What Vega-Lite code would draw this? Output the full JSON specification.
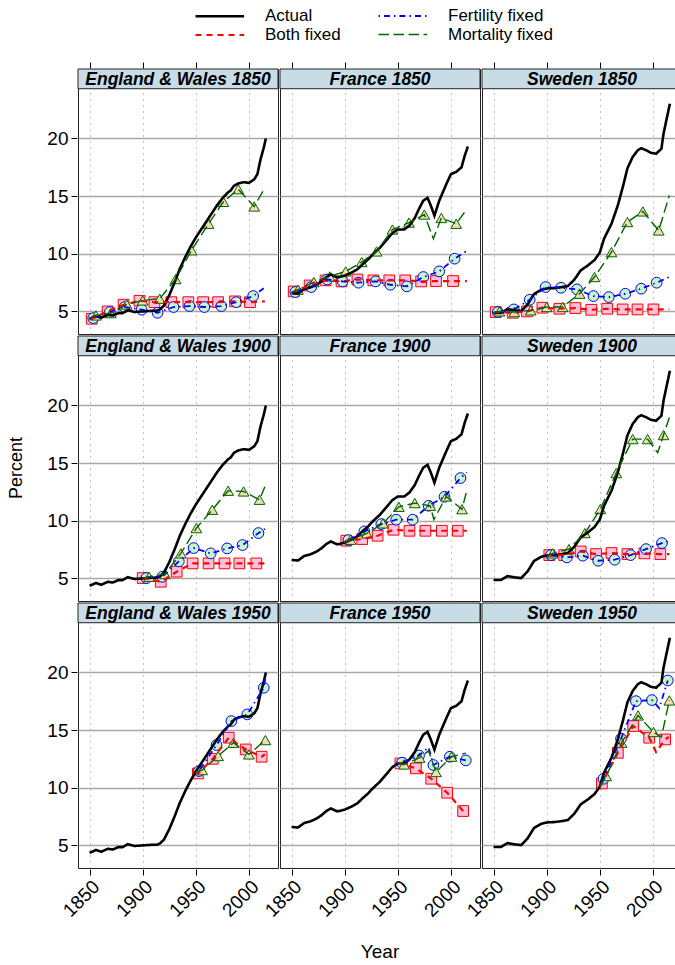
{
  "$schema": "https://vega.github.io/schema/vega-lite/v6.json",
  "background": "white",
  "padding": {"left": 7, "top": 5, "right": 0, "bottom": 5},
  "data": {"values": [
    {"country":"England & Wales","start":[1850],"series":"strip","label":"England & Wales 1850"},
    {"country":"England & Wales","start":[1900],"series":"strip","label":"England & Wales 1900"},
    {"country":"England & Wales","start":[1950],"series":"strip","label":"England & Wales 1950"},
    {"country":"France","start":[1850],"series":"strip","label":"France 1850"},
    {"country":"France","start":[1900],"series":"strip","label":"France 1900"},
    {"country":"France","start":[1950],"series":"strip","label":"France 1950"},
    {"country":"Sweden","start":[1850],"series":"strip","label":"Sweden 1850"},
    {"country":"Sweden","start":[1900],"series":"strip","label":"Sweden 1900"},
    {"country":"Sweden","start":[1950],"series":"strip","label":"Sweden 1950"},

    {"country":"England & Wales","start":[1850,1900,1950],"series":"Actual","year":1850,"pct":4.36},
    {"country":"England & Wales","start":[1850,1900,1950],"series":"Actual","year":1856,"pct":4.6},
    {"country":"England & Wales","start":[1850,1900,1950],"series":"Actual","year":1861,"pct":4.45},
    {"country":"England & Wales","start":[1850,1900,1950],"series":"Actual","year":1867,"pct":4.7},
    {"country":"England & Wales","start":[1850,1900,1950],"series":"Actual","year":1872,"pct":4.65},
    {"country":"England & Wales","start":[1850,1900,1950],"series":"Actual","year":1877,"pct":4.85},
    {"country":"England & Wales","start":[1850,1900,1950],"series":"Actual","year":1881,"pct":4.85},
    {"country":"England & Wales","start":[1850,1900,1950],"series":"Actual","year":1886,"pct":5.1},
    {"country":"England & Wales","start":[1850,1900,1950],"series":"Actual","year":1892,"pct":4.95},
    {"country":"England & Wales","start":[1850,1900,1950],"series":"Actual","year":1900,"pct":5.0},
    {"country":"England & Wales","start":[1850,1900,1950],"series":"Actual","year":1908,"pct":5.05},
    {"country":"England & Wales","start":[1850,1900,1950],"series":"Actual","year":1913,"pct":5.05},
    {"country":"England & Wales","start":[1850,1900,1950],"series":"Actual","year":1916,"pct":5.15},
    {"country":"England & Wales","start":[1850,1900,1950],"series":"Actual","year":1920,"pct":5.5},
    {"country":"England & Wales","start":[1850,1900,1950],"series":"Actual","year":1925,"pct":6.4},
    {"country":"England & Wales","start":[1850,1900,1950],"series":"Actual","year":1930,"pct":7.5},
    {"country":"England & Wales","start":[1850,1900,1950],"series":"Actual","year":1935,"pct":8.7},
    {"country":"England & Wales","start":[1850,1900,1950],"series":"Actual","year":1940,"pct":9.7},
    {"country":"England & Wales","start":[1850,1900,1950],"series":"Actual","year":1945,"pct":10.6},
    {"country":"England & Wales","start":[1850,1900,1950],"series":"Actual","year":1950,"pct":11.4},
    {"country":"England & Wales","start":[1850,1900,1950],"series":"Actual","year":1955,"pct":12.1},
    {"country":"England & Wales","start":[1850,1900,1950],"series":"Actual","year":1960,"pct":12.8},
    {"country":"England & Wales","start":[1850,1900,1950],"series":"Actual","year":1965,"pct":13.5},
    {"country":"England & Wales","start":[1850,1900,1950],"series":"Actual","year":1970,"pct":14.2},
    {"country":"England & Wales","start":[1850,1900,1950],"series":"Actual","year":1975,"pct":14.8},
    {"country":"England & Wales","start":[1850,1900,1950],"series":"Actual","year":1980,"pct":15.3},
    {"country":"England & Wales","start":[1850,1900,1950],"series":"Actual","year":1983,"pct":15.5},
    {"country":"England & Wales","start":[1850,1900,1950],"series":"Actual","year":1986,"pct":15.9},
    {"country":"England & Wales","start":[1850,1900,1950],"series":"Actual","year":1990,"pct":16.1},
    {"country":"England & Wales","start":[1850,1900,1950],"series":"Actual","year":1995,"pct":16.2},
    {"country":"England & Wales","start":[1850,1900,1950],"series":"Actual","year":2000,"pct":16.15},
    {"country":"England & Wales","start":[1850,1900,1950],"series":"Actual","year":2005,"pct":16.45},
    {"country":"England & Wales","start":[1850,1900,1950],"series":"Actual","year":2008,"pct":16.9},
    {"country":"England & Wales","start":[1850,1900,1950],"series":"Actual","year":2011,"pct":18.2},
    {"country":"England & Wales","start":[1850,1900,1950],"series":"Actual","year":2014,"pct":19.2},
    {"country":"England & Wales","start":[1850,1900,1950],"series":"Actual","year":2016,"pct":20.0},

    {"country":"France","start":[1850,1900,1950],"series":"Actual","year":1850,"pct":6.6},
    {"country":"France","start":[1850,1900,1950],"series":"Actual","year":1856,"pct":6.55},
    {"country":"France","start":[1850,1900,1950],"series":"Actual","year":1862,"pct":6.95},
    {"country":"France","start":[1850,1900,1950],"series":"Actual","year":1868,"pct":7.1},
    {"country":"France","start":[1850,1900,1950],"series":"Actual","year":1873,"pct":7.3},
    {"country":"France","start":[1850,1900,1950],"series":"Actual","year":1878,"pct":7.6},
    {"country":"France","start":[1850,1900,1950],"series":"Actual","year":1883,"pct":8.0},
    {"country":"France","start":[1850,1900,1950],"series":"Actual","year":1887,"pct":8.2},
    {"country":"France","start":[1850,1900,1950],"series":"Actual","year":1893,"pct":7.95},
    {"country":"France","start":[1850,1900,1950],"series":"Actual","year":1900,"pct":8.1},
    {"country":"France","start":[1850,1900,1950],"series":"Actual","year":1906,"pct":8.35},
    {"country":"France","start":[1850,1900,1950],"series":"Actual","year":1912,"pct":8.65},
    {"country":"France","start":[1850,1900,1950],"series":"Actual","year":1917,"pct":9.1},
    {"country":"France","start":[1850,1900,1950],"series":"Actual","year":1922,"pct":9.5},
    {"country":"France","start":[1850,1900,1950],"series":"Actual","year":1927,"pct":10.0},
    {"country":"France","start":[1850,1900,1950],"series":"Actual","year":1933,"pct":10.5},
    {"country":"France","start":[1850,1900,1950],"series":"Actual","year":1939,"pct":11.15},
    {"country":"France","start":[1850,1900,1950],"series":"Actual","year":1945,"pct":11.8},
    {"country":"France","start":[1850,1900,1950],"series":"Actual","year":1950,"pct":12.1},
    {"country":"France","start":[1850,1900,1950],"series":"Actual","year":1956,"pct":12.1},
    {"country":"France","start":[1850,1900,1950],"series":"Actual","year":1961,"pct":12.45},
    {"country":"France","start":[1850,1900,1950],"series":"Actual","year":1966,"pct":13.1},
    {"country":"France","start":[1850,1900,1950],"series":"Actual","year":1970,"pct":13.9},
    {"country":"France","start":[1850,1900,1950],"series":"Actual","year":1974,"pct":14.6},
    {"country":"France","start":[1850,1900,1950],"series":"Actual","year":1978,"pct":14.85},
    {"country":"France","start":[1850,1900,1950],"series":"Actual","year":1981,"pct":14.2},
    {"country":"France","start":[1850,1900,1950],"series":"Actual","year":1984.5,"pct":13.3},
    {"country":"France","start":[1850,1900,1950],"series":"Actual","year":1989,"pct":14.6},
    {"country":"France","start":[1850,1900,1950],"series":"Actual","year":1996,"pct":16.1},
    {"country":"France","start":[1850,1900,1950],"series":"Actual","year":2000,"pct":16.9},
    {"country":"France","start":[1850,1900,1950],"series":"Actual","year":2005,"pct":17.1},
    {"country":"France","start":[1850,1900,1950],"series":"Actual","year":2010,"pct":17.5},
    {"country":"France","start":[1850,1900,1950],"series":"Actual","year":2013,"pct":18.5},
    {"country":"France","start":[1850,1900,1950],"series":"Actual","year":2016,"pct":19.3},

    {"country":"Sweden","start":[1850,1900,1950],"series":"Actual","year":1850,"pct":4.86},
    {"country":"Sweden","start":[1850,1900,1950],"series":"Actual","year":1857,"pct":4.86},
    {"country":"Sweden","start":[1850,1900,1950],"series":"Actual","year":1863,"pct":5.2},
    {"country":"Sweden","start":[1850,1900,1950],"series":"Actual","year":1870,"pct":5.09},
    {"country":"Sweden","start":[1850,1900,1950],"series":"Actual","year":1876,"pct":5.03},
    {"country":"Sweden","start":[1850,1900,1950],"series":"Actual","year":1882,"pct":5.6},
    {"country":"Sweden","start":[1850,1900,1950],"series":"Actual","year":1888,"pct":6.5},
    {"country":"Sweden","start":[1850,1900,1950],"series":"Actual","year":1895,"pct":6.88},
    {"country":"Sweden","start":[1850,1900,1950],"series":"Actual","year":1901,"pct":7.0},
    {"country":"Sweden","start":[1850,1900,1950],"series":"Actual","year":1907,"pct":7.02},
    {"country":"Sweden","start":[1850,1900,1950],"series":"Actual","year":1914,"pct":7.1},
    {"country":"Sweden","start":[1850,1900,1950],"series":"Actual","year":1920,"pct":7.2},
    {"country":"Sweden","start":[1850,1900,1950],"series":"Actual","year":1926,"pct":7.75},
    {"country":"Sweden","start":[1850,1900,1950],"series":"Actual","year":1932,"pct":8.55},
    {"country":"Sweden","start":[1850,1900,1950],"series":"Actual","year":1939,"pct":9.0},
    {"country":"Sweden","start":[1850,1900,1950],"series":"Actual","year":1945,"pct":9.45},
    {"country":"Sweden","start":[1850,1900,1950],"series":"Actual","year":1950,"pct":10.1},
    {"country":"Sweden","start":[1850,1900,1950],"series":"Actual","year":1954,"pct":11.3},
    {"country":"Sweden","start":[1850,1900,1950],"series":"Actual","year":1961,"pct":12.6},
    {"country":"Sweden","start":[1850,1900,1950],"series":"Actual","year":1967,"pct":14.2},
    {"country":"Sweden","start":[1850,1900,1950],"series":"Actual","year":1972,"pct":15.9},
    {"country":"Sweden","start":[1850,1900,1950],"series":"Actual","year":1976,"pct":17.4},
    {"country":"Sweden","start":[1850,1900,1950],"series":"Actual","year":1981,"pct":18.4},
    {"country":"Sweden","start":[1850,1900,1950],"series":"Actual","year":1986,"pct":19.0},
    {"country":"Sweden","start":[1850,1900,1950],"series":"Actual","year":1989,"pct":19.15},
    {"country":"Sweden","start":[1850,1900,1950],"series":"Actual","year":1994,"pct":18.96},
    {"country":"Sweden","start":[1850,1900,1950],"series":"Actual","year":1998,"pct":18.76},
    {"country":"Sweden","start":[1850,1900,1950],"series":"Actual","year":2003,"pct":18.67},
    {"country":"Sweden","start":[1850,1900,1950],"series":"Actual","year":2008,"pct":19.1},
    {"country":"Sweden","start":[1850,1900,1950],"series":"Actual","year":2010,"pct":20.4},
    {"country":"Sweden","start":[1850,1900,1950],"series":"Actual","year":2012.5,"pct":21.5},
    {"country":"Sweden","start":[1850,1900,1950],"series":"Actual","year":2016,"pct":23.0},

    {"country":"England & Wales","start":[1850],"series":"Both fixed","year":1850,"pct":4.36},
    {"country":"England & Wales","start":[1850],"series":"Both fixed","year":1852,"pct":4.36,"m":1},
    {"country":"England & Wales","start":[1850],"series":"Both fixed","year":1867,"pct":5.0,"m":1},
    {"country":"England & Wales","start":[1850],"series":"Both fixed","year":1882,"pct":5.58,"m":1},
    {"country":"England & Wales","start":[1850],"series":"Both fixed","year":1897,"pct":5.92,"m":1},
    {"country":"England & Wales","start":[1850],"series":"Both fixed","year":1911,"pct":5.8,"m":1},
    {"country":"England & Wales","start":[1850],"series":"Both fixed","year":1927,"pct":5.8,"m":1},
    {"country":"England & Wales","start":[1850],"series":"Both fixed","year":1943,"pct":5.8,"m":1},
    {"country":"England & Wales","start":[1850],"series":"Both fixed","year":1957,"pct":5.8,"m":1},
    {"country":"England & Wales","start":[1850],"series":"Both fixed","year":1971,"pct":5.8,"m":1},
    {"country":"England & Wales","start":[1850],"series":"Both fixed","year":1987,"pct":5.87,"m":1},
    {"country":"England & Wales","start":[1850],"series":"Both fixed","year":2001,"pct":5.8,"m":1},
    {"country":"England & Wales","start":[1850],"series":"Both fixed","year":2015,"pct":5.87},
    {"country":"England & Wales","start":[1850],"series":"Fertility fixed","year":1850,"pct":4.36},
    {"country":"England & Wales","start":[1850],"series":"Fertility fixed","year":1853.5,"pct":4.42,"m":1},
    {"country":"England & Wales","start":[1850],"series":"Fertility fixed","year":1869,"pct":4.94,"m":1},
    {"country":"England & Wales","start":[1850],"series":"Fertility fixed","year":1883,"pct":5.38,"m":1},
    {"country":"England & Wales","start":[1850],"series":"Fertility fixed","year":1899,"pct":5.15,"m":1},
    {"country":"England & Wales","start":[1850],"series":"Fertility fixed","year":1914,"pct":4.88,"m":1},
    {"country":"England & Wales","start":[1850],"series":"Fertility fixed","year":1929,"pct":5.38,"m":1},
    {"country":"England & Wales","start":[1850],"series":"Fertility fixed","year":1944,"pct":5.46,"m":1},
    {"country":"England & Wales","start":[1850],"series":"Fertility fixed","year":1958,"pct":5.38,"m":1},
    {"country":"England & Wales","start":[1850],"series":"Fertility fixed","year":1974,"pct":5.46,"m":1},
    {"country":"England & Wales","start":[1850],"series":"Fertility fixed","year":1988,"pct":5.8,"m":1},
    {"country":"England & Wales","start":[1850],"series":"Fertility fixed","year":2004,"pct":6.33,"m":1},
    {"country":"England & Wales","start":[1850],"series":"Fertility fixed","year":2014,"pct":7.0},
    {"country":"England & Wales","start":[1850],"series":"Mortality fixed","year":1850,"pct":4.36},
    {"country":"England & Wales","start":[1850],"series":"Mortality fixed","year":1856,"pct":4.65,"m":1},
    {"country":"England & Wales","start":[1850],"series":"Mortality fixed","year":1870,"pct":4.85,"m":1},
    {"country":"England & Wales","start":[1850],"series":"Mortality fixed","year":1885,"pct":5.6,"m":1},
    {"country":"England & Wales","start":[1850],"series":"Mortality fixed","year":1900,"pct":5.95,"m":1},
    {"country":"England & Wales","start":[1850],"series":"Mortality fixed","year":1916,"pct":6.1,"m":1},
    {"country":"England & Wales","start":[1850],"series":"Mortality fixed","year":1931,"pct":7.8,"m":1},
    {"country":"England & Wales","start":[1850],"series":"Mortality fixed","year":1946,"pct":10.3,"m":1},
    {"country":"England & Wales","start":[1850],"series":"Mortality fixed","year":1962,"pct":12.6,"m":1},
    {"country":"England & Wales","start":[1850],"series":"Mortality fixed","year":1976,"pct":14.5,"m":1},
    {"country":"England & Wales","start":[1850],"series":"Mortality fixed","year":1990,"pct":15.6,"m":1},
    {"country":"England & Wales","start":[1850],"series":"Mortality fixed","year":2005,"pct":14.1,"m":1},
    {"country":"England & Wales","start":[1850],"series":"Mortality fixed","year":2015,"pct":15.7},

    {"country":"France","start":[1850],"series":"Both fixed","year":1850,"pct":6.6},
    {"country":"France","start":[1850],"series":"Both fixed","year":1852,"pct":6.73,"m":1},
    {"country":"France","start":[1850],"series":"Both fixed","year":1867,"pct":7.25,"m":1},
    {"country":"France","start":[1850],"series":"Both fixed","year":1882,"pct":7.69,"m":1},
    {"country":"France","start":[1850],"series":"Both fixed","year":1897,"pct":7.6,"m":1},
    {"country":"France","start":[1850],"series":"Both fixed","year":1912,"pct":7.77,"m":1},
    {"country":"France","start":[1850],"series":"Both fixed","year":1927,"pct":7.69,"m":1},
    {"country":"France","start":[1850],"series":"Both fixed","year":1942,"pct":7.69,"m":1},
    {"country":"France","start":[1850],"series":"Both fixed","year":1957,"pct":7.69,"m":1},
    {"country":"France","start":[1850],"series":"Both fixed","year":1972,"pct":7.6,"m":1},
    {"country":"France","start":[1850],"series":"Both fixed","year":1986,"pct":7.63,"m":1},
    {"country":"France","start":[1850],"series":"Both fixed","year":2002,"pct":7.63,"m":1},
    {"country":"France","start":[1850],"series":"Both fixed","year":2015,"pct":7.63},
    {"country":"France","start":[1850],"series":"Fertility fixed","year":1850,"pct":6.6},
    {"country":"France","start":[1850],"series":"Fertility fixed","year":1853.5,"pct":6.68,"m":1},
    {"country":"France","start":[1850],"series":"Fertility fixed","year":1868.5,"pct":7.11,"m":1},
    {"country":"France","start":[1850],"series":"Fertility fixed","year":1883.5,"pct":7.77,"m":1},
    {"country":"France","start":[1850],"series":"Fertility fixed","year":1898,"pct":7.6,"m":1},
    {"country":"France","start":[1850],"series":"Fertility fixed","year":1913,"pct":7.49,"m":1},
    {"country":"France","start":[1850],"series":"Fertility fixed","year":1929,"pct":7.6,"m":1},
    {"country":"France","start":[1850],"series":"Fertility fixed","year":1943,"pct":7.31,"m":1},
    {"country":"France","start":[1850],"series":"Fertility fixed","year":1958.5,"pct":7.17,"m":1},
    {"country":"France","start":[1850],"series":"Fertility fixed","year":1974,"pct":7.98,"m":1},
    {"country":"France","start":[1850],"series":"Fertility fixed","year":1989,"pct":8.47,"m":1},
    {"country":"France","start":[1850],"series":"Fertility fixed","year":2003.5,"pct":9.57,"m":1},
    {"country":"France","start":[1850],"series":"Fertility fixed","year":2015,"pct":10.25},
    {"country":"France","start":[1850],"series":"Mortality fixed","year":1850,"pct":6.6},
    {"country":"France","start":[1850],"series":"Mortality fixed","year":1856,"pct":6.88,"m":1},
    {"country":"France","start":[1850],"series":"Mortality fixed","year":1871,"pct":7.54,"m":1},
    {"country":"France","start":[1850],"series":"Mortality fixed","year":1886,"pct":8.03,"m":1},
    {"country":"France","start":[1850],"series":"Mortality fixed","year":1901,"pct":8.47,"m":1},
    {"country":"France","start":[1850],"series":"Mortality fixed","year":1916,"pct":9.28,"m":1},
    {"country":"France","start":[1850],"series":"Mortality fixed","year":1930,"pct":10.2,"m":1},
    {"country":"France","start":[1850],"series":"Mortality fixed","year":1945,"pct":12.1,"m":1},
    {"country":"France","start":[1850],"series":"Mortality fixed","year":1960.5,"pct":12.7,"m":1},
    {"country":"France","start":[1850],"series":"Mortality fixed","year":1975,"pct":13.4,"m":1},
    {"country":"France","start":[1850],"series":"Mortality fixed","year":1983.5,"pct":11.3},
    {"country":"France","start":[1850],"series":"Mortality fixed","year":1991,"pct":13.1,"m":1},
    {"country":"France","start":[1850],"series":"Mortality fixed","year":2005,"pct":12.6,"m":1},
    {"country":"France","start":[1850],"series":"Mortality fixed","year":2014.5,"pct":13.8},

    {"country":"Sweden","start":[1850],"series":"Both fixed","year":1850,"pct":4.86},
    {"country":"Sweden","start":[1850],"series":"Both fixed","year":1852,"pct":4.94,"m":1},
    {"country":"Sweden","start":[1850],"series":"Both fixed","year":1868,"pct":4.88,"m":1},
    {"country":"Sweden","start":[1850],"series":"Both fixed","year":1881.5,"pct":5.0,"m":1},
    {"country":"Sweden","start":[1850],"series":"Both fixed","year":1896,"pct":5.32,"m":1},
    {"country":"Sweden","start":[1850],"series":"Both fixed","year":1912,"pct":5.23,"m":1},
    {"country":"Sweden","start":[1850],"series":"Both fixed","year":1927,"pct":5.29,"m":1},
    {"country":"Sweden","start":[1850],"series":"Both fixed","year":1942,"pct":5.14,"m":1},
    {"country":"Sweden","start":[1850],"series":"Both fixed","year":1957,"pct":5.23,"m":1},
    {"country":"Sweden","start":[1850],"series":"Both fixed","year":1971.5,"pct":5.17,"m":1},
    {"country":"Sweden","start":[1850],"series":"Both fixed","year":1985.5,"pct":5.17,"m":1},
    {"country":"Sweden","start":[1850],"series":"Both fixed","year":2000.5,"pct":5.17,"m":1},
    {"country":"Sweden","start":[1850],"series":"Both fixed","year":2015.5,"pct":5.17},
    {"country":"Sweden","start":[1850],"series":"Fertility fixed","year":1850,"pct":4.86},
    {"country":"Sweden","start":[1850],"series":"Fertility fixed","year":1854,"pct":4.94,"m":1},
    {"country":"Sweden","start":[1850],"series":"Fertility fixed","year":1869,"pct":5.17,"m":1},
    {"country":"Sweden","start":[1850],"series":"Fertility fixed","year":1884,"pct":6.01,"m":1},
    {"country":"Sweden","start":[1850],"series":"Fertility fixed","year":1899,"pct":7.11,"m":1},
    {"country":"Sweden","start":[1850],"series":"Fertility fixed","year":1913.5,"pct":7.05,"m":1},
    {"country":"Sweden","start":[1850],"series":"Fertility fixed","year":1928.5,"pct":6.91,"m":1},
    {"country":"Sweden","start":[1850],"series":"Fertility fixed","year":1944,"pct":6.33,"m":1},
    {"country":"Sweden","start":[1850],"series":"Fertility fixed","year":1958.5,"pct":6.24,"m":1},
    {"country":"Sweden","start":[1850],"series":"Fertility fixed","year":1974,"pct":6.53,"m":1},
    {"country":"Sweden","start":[1850],"series":"Fertility fixed","year":1989,"pct":6.97,"m":1},
    {"country":"Sweden","start":[1850],"series":"Fertility fixed","year":2003.5,"pct":7.49,"m":1},
    {"country":"Sweden","start":[1850],"series":"Fertility fixed","year":2015.5,"pct":7.98},
    {"country":"Sweden","start":[1850],"series":"Mortality fixed","year":1850,"pct":4.86},
    {"country":"Sweden","start":[1850],"series":"Mortality fixed","year":1855.5,"pct":5.0,"m":1},
    {"country":"Sweden","start":[1850],"series":"Mortality fixed","year":1869.5,"pct":4.94,"m":1},
    {"country":"Sweden","start":[1850],"series":"Mortality fixed","year":1885,"pct":5.09,"m":1},
    {"country":"Sweden","start":[1850],"series":"Mortality fixed","year":1900,"pct":5.38,"m":1},
    {"country":"Sweden","start":[1850],"series":"Mortality fixed","year":1915,"pct":5.38,"m":1},
    {"country":"Sweden","start":[1850],"series":"Mortality fixed","year":1931,"pct":6.53,"m":1},
    {"country":"Sweden","start":[1850],"series":"Mortality fixed","year":1945,"pct":7.98,"m":1},
    {"country":"Sweden","start":[1850],"series":"Mortality fixed","year":1961,"pct":10.14,"m":1},
    {"country":"Sweden","start":[1850],"series":"Mortality fixed","year":1976,"pct":12.75,"m":1},
    {"country":"Sweden","start":[1850],"series":"Mortality fixed","year":1990.5,"pct":13.67,"m":1},
    {"country":"Sweden","start":[1850],"series":"Mortality fixed","year":2005.5,"pct":12.02,"m":1},
    {"country":"Sweden","start":[1850],"series":"Mortality fixed","year":2015.5,"pct":15.06},

    {"country":"England & Wales","start":[1900],"series":"Both fixed","year":1900,"pct":5.03,"m":1},
    {"country":"England & Wales","start":[1900],"series":"Both fixed","year":1917,"pct":4.71,"m":1},
    {"country":"England & Wales","start":[1900],"series":"Both fixed","year":1932,"pct":5.58,"m":1},
    {"country":"England & Wales","start":[1900],"series":"Both fixed","year":1947,"pct":6.3,"m":1},
    {"country":"England & Wales","start":[1900],"series":"Both fixed","year":1962,"pct":6.3,"m":1},
    {"country":"England & Wales","start":[1900],"series":"Both fixed","year":1977,"pct":6.3,"m":1},
    {"country":"England & Wales","start":[1900],"series":"Both fixed","year":1991,"pct":6.3,"m":1},
    {"country":"England & Wales","start":[1900],"series":"Both fixed","year":2007,"pct":6.3,"m":1},
    {"country":"England & Wales","start":[1900],"series":"Both fixed","year":2015,"pct":6.3},
    {"country":"England & Wales","start":[1900],"series":"Fertility fixed","year":1900,"pct":5.0},
    {"country":"England & Wales","start":[1900],"series":"Fertility fixed","year":1903.5,"pct":5.03,"m":1},
    {"country":"England & Wales","start":[1900],"series":"Fertility fixed","year":1918.5,"pct":5.14,"m":1},
    {"country":"England & Wales","start":[1900],"series":"Fertility fixed","year":1934,"pct":6.47,"m":1},
    {"country":"England & Wales","start":[1900],"series":"Fertility fixed","year":1948,"pct":7.63,"m":1},
    {"country":"England & Wales","start":[1900],"series":"Fertility fixed","year":1964,"pct":7.17,"m":1},
    {"country":"England & Wales","start":[1900],"series":"Fertility fixed","year":1979.5,"pct":7.6,"m":1},
    {"country":"England & Wales","start":[1900],"series":"Fertility fixed","year":1994,"pct":7.89,"m":1},
    {"country":"England & Wales","start":[1900],"series":"Fertility fixed","year":2009,"pct":8.93,"m":1},
    {"country":"England & Wales","start":[1900],"series":"Fertility fixed","year":2015,"pct":9.3},
    {"country":"England & Wales","start":[1900],"series":"Mortality fixed","year":1900,"pct":5.0},
    {"country":"England & Wales","start":[1900],"series":"Mortality fixed","year":1906,"pct":5.14,"m":1},
    {"country":"England & Wales","start":[1900],"series":"Mortality fixed","year":1921,"pct":5.38,"m":1},
    {"country":"England & Wales","start":[1900],"series":"Mortality fixed","year":1936,"pct":7.17,"m":1},
    {"country":"England & Wales","start":[1900],"series":"Mortality fixed","year":1950.5,"pct":9.36,"m":1},
    {"country":"England & Wales","start":[1900],"series":"Mortality fixed","year":1965.5,"pct":10.95,"m":1},
    {"country":"England & Wales","start":[1900],"series":"Mortality fixed","year":1980.5,"pct":12.6,"m":1},
    {"country":"England & Wales","start":[1900],"series":"Mortality fixed","year":1995,"pct":12.54,"m":1},
    {"country":"England & Wales","start":[1900],"series":"Mortality fixed","year":2010,"pct":11.82,"m":1},
    {"country":"England & Wales","start":[1900],"series":"Mortality fixed","year":2015,"pct":12.95},

    {"country":"France","start":[1900],"series":"Both fixed","year":1900,"pct":8.1},
    {"country":"France","start":[1900],"series":"Both fixed","year":1901.5,"pct":8.27,"m":1},
    {"country":"France","start":[1900],"series":"Both fixed","year":1916.5,"pct":8.41,"m":1},
    {"country":"France","start":[1900],"series":"Both fixed","year":1931,"pct":8.7,"m":1},
    {"country":"France","start":[1900],"series":"Both fixed","year":1946,"pct":9.22,"m":1},
    {"country":"France","start":[1900],"series":"Both fixed","year":1961,"pct":9.13,"m":1},
    {"country":"France","start":[1900],"series":"Both fixed","year":1976,"pct":9.13,"m":1},
    {"country":"France","start":[1900],"series":"Both fixed","year":1991.5,"pct":9.13,"m":1},
    {"country":"France","start":[1900],"series":"Both fixed","year":2006.5,"pct":9.13,"m":1},
    {"country":"France","start":[1900],"series":"Both fixed","year":2015,"pct":9.13},
    {"country":"France","start":[1900],"series":"Fertility fixed","year":1900,"pct":8.1},
    {"country":"France","start":[1900],"series":"Fertility fixed","year":1903.5,"pct":8.32,"m":1},
    {"country":"France","start":[1900],"series":"Fertility fixed","year":1918.5,"pct":9.08,"m":1},
    {"country":"France","start":[1900],"series":"Fertility fixed","year":1934.5,"pct":9.71,"m":1},
    {"country":"France","start":[1900],"series":"Fertility fixed","year":1948.5,"pct":10.09,"m":1},
    {"country":"France","start":[1900],"series":"Fertility fixed","year":1964,"pct":10.09,"m":1},
    {"country":"France","start":[1900],"series":"Fertility fixed","year":1979,"pct":11.3,"m":1},
    {"country":"France","start":[1900],"series":"Fertility fixed","year":1994,"pct":12.08,"m":1},
    {"country":"France","start":[1900],"series":"Fertility fixed","year":2009,"pct":13.7,"m":1},
    {"country":"France","start":[1900],"series":"Fertility fixed","year":2015,"pct":14.2},
    {"country":"France","start":[1900],"series":"Mortality fixed","year":1900,"pct":8.1},
    {"country":"France","start":[1900],"series":"Mortality fixed","year":1905.5,"pct":8.35,"m":1},
    {"country":"France","start":[1900],"series":"Mortality fixed","year":1921,"pct":8.9,"m":1},
    {"country":"France","start":[1900],"series":"Mortality fixed","year":1936,"pct":9.77,"m":1},
    {"country":"France","start":[1900],"series":"Mortality fixed","year":1951,"pct":11.21,"m":1},
    {"country":"France","start":[1900],"series":"Mortality fixed","year":1966,"pct":11.53,"m":1},
    {"country":"France","start":[1900],"series":"Mortality fixed","year":1980.5,"pct":11.3,"m":1},
    {"country":"France","start":[1900],"series":"Mortality fixed","year":1984,"pct":10.1},
    {"country":"France","start":[1900],"series":"Mortality fixed","year":1995.5,"pct":12.1,"m":1},
    {"country":"France","start":[1900],"series":"Mortality fixed","year":2010.5,"pct":11.0,"m":1},
    {"country":"France","start":[1900],"series":"Mortality fixed","year":2014.5,"pct":12.46},

    {"country":"Sweden","start":[1900],"series":"Both fixed","year":1900,"pct":7.0},
    {"country":"Sweden","start":[1900],"series":"Both fixed","year":1902.5,"pct":7.02,"m":1},
    {"country":"Sweden","start":[1900],"series":"Both fixed","year":1916.5,"pct":7.02,"m":1},
    {"country":"Sweden","start":[1900],"series":"Both fixed","year":1932,"pct":7.34,"m":1},
    {"country":"Sweden","start":[1900],"series":"Both fixed","year":1946.5,"pct":7.11,"m":1},
    {"country":"Sweden","start":[1900],"series":"Both fixed","year":1961,"pct":7.2,"m":1},
    {"country":"Sweden","start":[1900],"series":"Both fixed","year":1976,"pct":7.11,"m":1},
    {"country":"Sweden","start":[1900],"series":"Both fixed","year":1992,"pct":7.17,"m":1},
    {"country":"Sweden","start":[1900],"series":"Both fixed","year":2007,"pct":7.11,"m":1},
    {"country":"Sweden","start":[1900],"series":"Both fixed","year":2015.5,"pct":7.11},
    {"country":"Sweden","start":[1900],"series":"Fertility fixed","year":1900,"pct":7.0},
    {"country":"Sweden","start":[1900],"series":"Fertility fixed","year":1904,"pct":7.02,"m":1},
    {"country":"Sweden","start":[1900],"series":"Fertility fixed","year":1919,"pct":6.82,"m":1},
    {"country":"Sweden","start":[1900],"series":"Fertility fixed","year":1934,"pct":6.97,"m":1},
    {"country":"Sweden","start":[1900],"series":"Fertility fixed","year":1948.5,"pct":6.53,"m":1},
    {"country":"Sweden","start":[1900],"series":"Fertility fixed","year":1964,"pct":6.62,"m":1},
    {"country":"Sweden","start":[1900],"series":"Fertility fixed","year":1979,"pct":7.02,"m":1},
    {"country":"Sweden","start":[1900],"series":"Fertility fixed","year":1993.5,"pct":7.54,"m":1},
    {"country":"Sweden","start":[1900],"series":"Fertility fixed","year":2008.5,"pct":8.06,"m":1},
    {"country":"Sweden","start":[1900],"series":"Fertility fixed","year":2014,"pct":8.2},
    {"country":"Sweden","start":[1900],"series":"Mortality fixed","year":1900,"pct":7.0},
    {"country":"Sweden","start":[1900],"series":"Mortality fixed","year":1905.5,"pct":7.17,"m":1},
    {"country":"Sweden","start":[1900],"series":"Mortality fixed","year":1921,"pct":7.54,"m":1},
    {"country":"Sweden","start":[1900],"series":"Mortality fixed","year":1936,"pct":8.93,"m":1},
    {"country":"Sweden","start":[1900],"series":"Mortality fixed","year":1950.5,"pct":11.01,"m":1},
    {"country":"Sweden","start":[1900],"series":"Mortality fixed","year":1965.5,"pct":14.13,"m":1},
    {"country":"Sweden","start":[1900],"series":"Mortality fixed","year":1981,"pct":17.08,"m":1},
    {"country":"Sweden","start":[1900],"series":"Mortality fixed","year":1995,"pct":17.08,"m":1},
    {"country":"Sweden","start":[1900],"series":"Mortality fixed","year":2004.5,"pct":15.9},
    {"country":"Sweden","start":[1900],"series":"Mortality fixed","year":2010,"pct":17.43,"m":1},
    {"country":"Sweden","start":[1900],"series":"Mortality fixed","year":2015.5,"pct":18.96},

    {"country":"England & Wales","start":[1950],"series":"Both fixed","year":1950,"pct":11.4},
    {"country":"England & Wales","start":[1950],"series":"Both fixed","year":1952,"pct":11.24,"m":1},
    {"country":"England & Wales","start":[1950],"series":"Both fixed","year":1966,"pct":12.51,"m":1},
    {"country":"England & Wales","start":[1950],"series":"Both fixed","year":1981,"pct":14.34,"m":1},
    {"country":"England & Wales","start":[1950],"series":"Both fixed","year":1997,"pct":13.32,"m":1},
    {"country":"England & Wales","start":[1950],"series":"Both fixed","year":2012,"pct":12.69,"m":1},
    {"country":"England & Wales","start":[1950],"series":"Both fixed","year":2015,"pct":12.9},
    {"country":"England & Wales","start":[1950],"series":"Fertility fixed","year":1950,"pct":11.4},
    {"country":"England & Wales","start":[1950],"series":"Fertility fixed","year":1953,"pct":11.45,"m":1},
    {"country":"England & Wales","start":[1950],"series":"Fertility fixed","year":1969.5,"pct":13.7,"m":1},
    {"country":"England & Wales","start":[1950],"series":"Fertility fixed","year":1983.5,"pct":15.78,"m":1},
    {"country":"England & Wales","start":[1950],"series":"Fertility fixed","year":1998.5,"pct":16.36,"m":1},
    {"country":"England & Wales","start":[1950],"series":"Fertility fixed","year":2014,"pct":18.67,"m":1},
    {"country":"England & Wales","start":[1950],"series":"Fertility fixed","year":2016,"pct":19.9},
    {"country":"England & Wales","start":[1950],"series":"Mortality fixed","year":1950,"pct":11.4},
    {"country":"England & Wales","start":[1950],"series":"Mortality fixed","year":1956,"pct":11.53,"m":1},
    {"country":"England & Wales","start":[1950],"series":"Mortality fixed","year":1971,"pct":12.75,"m":1},
    {"country":"England & Wales","start":[1950],"series":"Mortality fixed","year":1985.5,"pct":13.9,"m":1},
    {"country":"England & Wales","start":[1950],"series":"Mortality fixed","year":2000,"pct":12.89,"m":1},
    {"country":"England & Wales","start":[1950],"series":"Mortality fixed","year":2015.5,"pct":14.13,"m":1},

    {"country":"France","start":[1950],"series":"Both fixed","year":1950,"pct":12.1},
    {"country":"France","start":[1950],"series":"Both fixed","year":1952.5,"pct":12.11,"m":1},
    {"country":"France","start":[1950],"series":"Both fixed","year":1967,"pct":11.68,"m":1},
    {"country":"France","start":[1950],"series":"Both fixed","year":1981.5,"pct":10.78,"m":1},
    {"country":"France","start":[1950],"series":"Both fixed","year":1996.5,"pct":9.57,"m":1},
    {"country":"France","start":[1950],"series":"Both fixed","year":2011.5,"pct":7.98,"m":1},
    {"country":"France","start":[1950],"series":"Fertility fixed","year":1950,"pct":12.1},
    {"country":"France","start":[1950],"series":"Fertility fixed","year":1954,"pct":12.17,"m":1},
    {"country":"France","start":[1950],"series":"Fertility fixed","year":1970,"pct":12.8,"m":1},
    {"country":"France","start":[1950],"series":"Fertility fixed","year":1979,"pct":13.5},
    {"country":"France","start":[1950],"series":"Fertility fixed","year":1983.5,"pct":11.97,"m":1},
    {"country":"France","start":[1950],"series":"Fertility fixed","year":1999,"pct":12.69,"m":1},
    {"country":"France","start":[1950],"series":"Fertility fixed","year":2014,"pct":12.37,"m":1},
    {"country":"France","start":[1950],"series":"Mortality fixed","year":1950,"pct":12.1},
    {"country":"France","start":[1950],"series":"Mortality fixed","year":1956,"pct":12.02,"m":1},
    {"country":"France","start":[1950],"series":"Mortality fixed","year":1970.5,"pct":12.6,"m":1},
    {"country":"France","start":[1950],"series":"Mortality fixed","year":1979,"pct":13.2},
    {"country":"France","start":[1950],"series":"Mortality fixed","year":1986,"pct":11.36,"m":1},
    {"country":"France","start":[1950],"series":"Mortality fixed","year":2000.5,"pct":12.69,"m":1},
    {"country":"France","start":[1950],"series":"Mortality fixed","year":2014,"pct":13.0},

    {"country":"Sweden","start":[1950],"series":"Both fixed","year":1950,"pct":10.1},
    {"country":"Sweden","start":[1950],"series":"Both fixed","year":1952,"pct":10.38,"m":1},
    {"country":"Sweden","start":[1950],"series":"Both fixed","year":1967,"pct":13.03,"m":1},
    {"country":"Sweden","start":[1950],"series":"Both fixed","year":1981.5,"pct":15.35,"m":1},
    {"country":"Sweden","start":[1950],"series":"Both fixed","year":1996.5,"pct":14.34,"m":1},
    {"country":"Sweden","start":[1950],"series":"Both fixed","year":2003,"pct":13.1},
    {"country":"Sweden","start":[1950],"series":"Both fixed","year":2011.5,"pct":14.19,"m":1},
    {"country":"Sweden","start":[1950],"series":"Both fixed","year":2015,"pct":14.4},
    {"country":"Sweden","start":[1950],"series":"Fertility fixed","year":1950,"pct":10.1},
    {"country":"Sweden","start":[1950],"series":"Fertility fixed","year":1953.5,"pct":10.78,"m":1},
    {"country":"Sweden","start":[1950],"series":"Fertility fixed","year":1970,"pct":14.25,"m":1},
    {"country":"Sweden","start":[1950],"series":"Fertility fixed","year":1984,"pct":17.51,"m":1},
    {"country":"Sweden","start":[1950],"series":"Fertility fixed","year":1999,"pct":17.6,"m":1},
    {"country":"Sweden","start":[1950],"series":"Fertility fixed","year":2006,"pct":16.9},
    {"country":"Sweden","start":[1950],"series":"Fertility fixed","year":2014,"pct":19.3,"m":1},
    {"country":"Sweden","start":[1950],"series":"Mortality fixed","year":1950,"pct":10.1},
    {"country":"Sweden","start":[1950],"series":"Mortality fixed","year":1956,"pct":11.01,"m":1},
    {"country":"Sweden","start":[1950],"series":"Mortality fixed","year":1970.5,"pct":13.9,"m":1},
    {"country":"Sweden","start":[1950],"series":"Mortality fixed","year":1986,"pct":16.27,"m":1},
    {"country":"Sweden","start":[1950],"series":"Mortality fixed","year":2000.5,"pct":14.83,"m":1},
    {"country":"Sweden","start":[1950],"series":"Mortality fixed","year":2008,"pct":14.4},
    {"country":"Sweden","start":[1950],"series":"Mortality fixed","year":2015.5,"pct":17.57,"m":1}
  ]},
  "transform": [{"flatten": ["start"]}],
  "facet": {
    "row": {"field": "start", "type": "ordinal", "title": "Percent",
      "header": {"labels": false, "titleOrient": "left", "titleFontSize": 18, "titleFont": "Liberation Sans", "titleFontWeight": "normal", "titleColor": "#000", "titlePadding": 10}},
    "column": {"field": "country", "type": "nominal", "sort": ["England & Wales", "France", "Sweden"], "title": "Year",
      "header": {"labels": false, "titleOrient": "bottom", "titleFontSize": 19, "titleFont": "Liberation Sans", "titleFontWeight": "normal", "titleColor": "#000", "titlePadding": 12}}
  },
  "spacing": {"row": 0, "column": 0},
  "spec": {
    "width": 200,
    "height": 265,
    "resolve": {"axis": {"x": "independent"}},
    "layer": [
      {
        "transform": [{"filter": "datum.series === 'strip'"}],
        "mark": {"type": "rect", "fill": "#c8dce6", "stroke": "#222", "strokeWidth": 1},
        "encoding": {
          "x": {"value": 0},
          "x2": {"value": "width"},
          "y": {"datum": 24.31, "type": "quantitative"},
          "y2": {"datum": 26.02}
        }
      },
      {
        "transform": [{"filter": "datum.m === 1"}],
        "mark": {"type": "point", "filled": true, "strokeWidth": 1, "opacity": 1},
        "encoding": {
          "x": {"field": "year", "type": "quantitative",
            "scale": {"domain": [1839.1, 2027.4], "nice": false, "zero": false},
            "axis": {"orient": "bottom", "values": [1850, 1900, 1950, 2000], "format": "d", "labelAngle": -45, "grid": true, "gridDash": [1, 5], "gridColor": "#888", "gridWidth": 1, "title": null, "labelPadding": 2}},
          "y": {"field": "pct", "type": "quantitative",
            "scale": {"domain": [3.04, 26.02], "nice": false, "zero": false},
            "axis": {"values": [5, 10, 15, 20], "grid": true, "gridColor": "#a8a8a8", "gridWidth": 1.5, "title": null, "labelPadding": 3}},
          "shape": {"field": "series", "type": "nominal", "legend": null,
            "scale": {"domain": ["Both fixed", "Fertility fixed", "Mortality fixed"], "range": ["square", "circle", "triangle-up"]}},
          "fill": {"field": "series", "type": "nominal", "legend": null,
            "scale": {"domain": ["Both fixed", "Fertility fixed", "Mortality fixed"], "range": ["#ffc0dc", "#c8f5c8", "#f2dcb4"]}},
          "stroke": {"field": "series", "type": "nominal", "legend": null,
            "scale": {"domain": ["Both fixed", "Fertility fixed", "Mortality fixed"], "range": ["#ff0000", "#0000ff", "#006400"]}},
          "size": {"field": "series", "type": "nominal", "legend": null,
            "scale": {"domain": ["Both fixed", "Fertility fixed", "Mortality fixed"], "range": [115, 115, 160]}}
        }
      },
      {
        "transform": [{"filter": "datum.series !== 'strip'"}],
        "mark": {"type": "line", "strokeCap": "butt"},
        "encoding": {
          "x": {"field": "year", "type": "quantitative", "axis": null},
          "y": {"field": "pct", "type": "quantitative"},
          "color": {"field": "series", "type": "nominal",
            "scale": {"domain": ["Actual", "Both fixed", "Fertility fixed", "Mortality fixed"], "range": ["#000000", "#ff0000", "#0000ff", "#006400"]},
            "legend": {
              "orient": "none", "legendX": 116, "legendY": -63.5, "columns": 2, "title": null, "padding": 0,
              "symbolType": "M-1,0H4.4", "symbolSize": 324, "labelFontSize": 17, "labelFont": "Liberation Sans", "labelColor": "#000",
              "columnPadding": 33, "rowPadding": -3, "labelOffset": 50
            }},
          "strokeDash": {"field": "series", "type": "nominal",
            "scale": {"domain": ["Actual", "Both fixed", "Fertility fixed", "Mortality fixed"], "range": [[1, 0], [6, 5], [1.5, 4, 6, 4], [10.5, 4.5]]}},
          "strokeWidth": {"field": "series", "type": "nominal",
            "scale": {"domain": ["Actual", "Both fixed", "Fertility fixed", "Mortality fixed"], "range": [2.6, 1.4, 1.4, 1.4]}}
        }
      },
      {
        "transform": [{"filter": "datum.series === 'strip'"}],
        "mark": {"type": "text", "fontSize": 17.5, "fontWeight": "bold", "fontStyle": "italic", "font": "Liberation Sans", "color": "#000", "baseline": "middle", "align": "center", "dy": 1},
        "encoding": {
          "x": {"datum": 1933.25, "type": "quantitative",
            "axis": {"orient": "top", "values": [1850, 1900, 1950, 2000], "labels": false, "grid": false, "title": null, "ticks": true}},
          "y": {"datum": 25.17, "type": "quantitative"},
          "text": {"field": "label"}
        }
      }
    ]
  },
  "config": {
    "view": {"stroke": "#222", "strokeWidth": 1},
    "font": "Liberation Sans",
    "axis": {"labelFont": "Liberation Sans", "labelFontSize": 19, "labelColor": "#000", "tickColor": "#000", "tickSize": 6, "domain": false, "titleFont": "Liberation Sans"}
  }
}
